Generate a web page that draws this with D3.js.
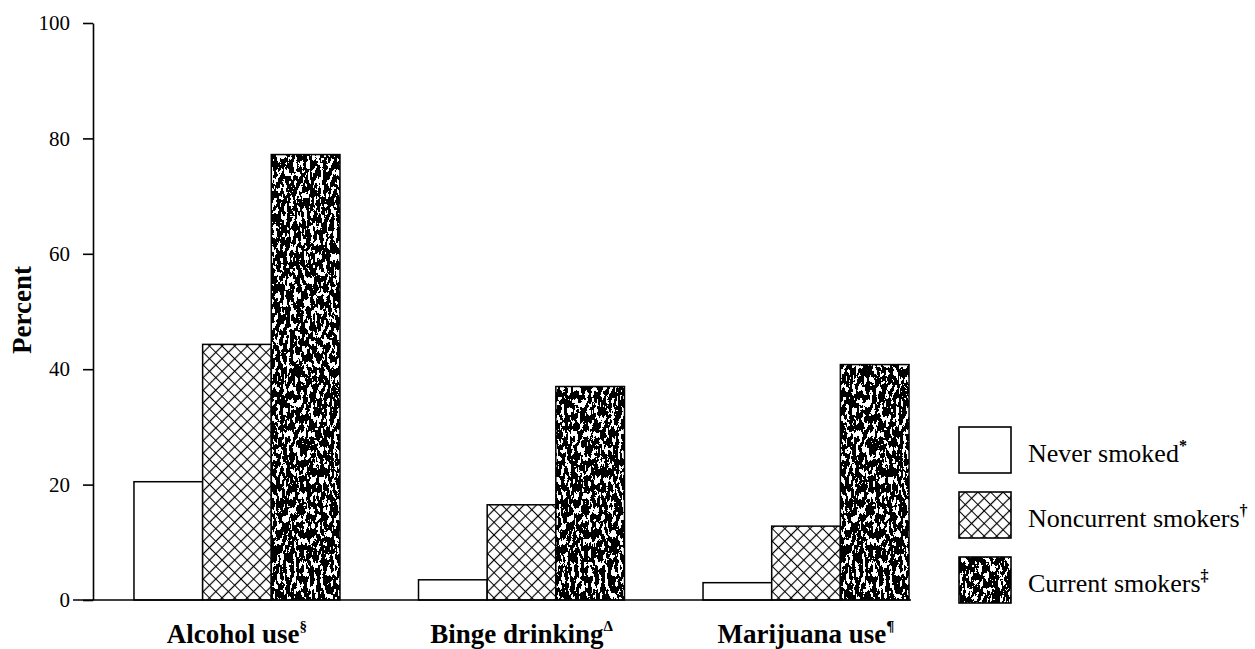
<!DOCTYPE html>
<html>
<head>
<meta charset="utf-8">
<script src="https://cdn.jsdelivr.net/npm/d3@7"></script>
<style>
  body { margin: 0; background: #fff; }
  svg { display: block; }
</style>
</head>
<body>
<script>
(function(){

//chart data
var categories = ["Alcohol use", "Binge drinking", "Marijuana use"];
var categoryMarks = ["\u00a7", "\u0394", "\u00b6"];
var seriesNames = ["Never smoked", "Noncurrent smokers", "Current smokers"];
var seriesMarks = ["*", "\u2020", "\u2021"];
var neverSmoked = [20.5, 3.5, 3.0];
var noncurrentSmokers = [44.3, 16.5, 12.8];
var currentSmokers = [77.2, 37.0, 40.8];
var yTicks = [0, 20, 40, 60, 80, 100];

var seriesValues = [neverSmoked, noncurrentSmokers, currentSmokers];

var width = 1255,
    height = 649;

var svg = d3.select("body")
    .append("svg")
    .attr("width", width)
    .attr("height", height);

var defs = svg.append("defs");

//crosshatch for noncurrent smokers
var cross = defs.append("pattern")
    .attr("id", "cross")
    .attr("patternUnits", "userSpaceOnUse")
    .attr("width", 8.9)
    .attr("height", 8.9)
    .attr("patternTransform", "rotate(45)");
cross.append("rect").attr("width", 8.9).attr("height", 8.9).attr("fill", "#fff");
cross.append("path")
    .attr("d", "M0,4.45H8.9M4.45,0V8.9")
    .attr("stroke", "#000")
    .attr("stroke-width", 1.2);

//speckled texture for current smokers
var speckle = defs.append("filter")
    .attr("id", "speckle")
    .attr("x", 0).attr("y", 0).attr("width", 1).attr("height", 1)
    .attr("color-interpolation-filters", "sRGB");
speckle.append("feTurbulence")
    .attr("type", "fractalNoise")
    .attr("baseFrequency", "0.3 0.13")
    .attr("numOctaves", 5)
    .attr("seed", 11)
    .attr("result", "noise");
speckle.append("feColorMatrix")
    .attr("in", "noise")
    .attr("type", "matrix")
    .attr("values", "0 0 0 0 0  0 0 0 0 0  0 0 0 0 0  1 0 0 0 0")
    .attr("result", "red");
speckle.append("feComponentTransfer")
    .attr("in", "red")
    .attr("result", "mask")
    .append("feFuncA")
    .attr("type", "discrete")
    .attr("tableValues", "0 0 0 0 0 0 0 0 0 1 1 1 1 1 1 1 1 1 1 1");
speckle.append("feComposite")
    .attr("in", "SourceGraphic")
    .attr("in2", "mask")
    .attr("operator", "in");

//scales
var x0 = d3.scaleBand()
    .domain(categories)
    .range([93, 950])
    .paddingInner(0.276)
    .paddingOuter(0.144);

var x1 = d3.scaleBand()
    .domain(seriesNames)
    .range([0, x0.bandwidth()]);

var y = d3.scaleLinear()
    .domain([0, 100])
    .range([600, 23]);

//y axis
var yAxis = d3.axisLeft(y)
    .tickValues(yTicks)
    .tickSize(10)
    .tickSizeOuter(0)
    .tickPadding(13);

var axis = svg.append("g")
    .attr("class", "axis")
    .attr("transform", "translate(93,0)")
    .call(yAxis);
axis.select(".domain").attr("stroke-width", 1.6);
axis.selectAll(".tick line").attr("stroke-width", 1.6);
axis.selectAll(".tick text")
    .attr("font-family", "Liberation Serif")
    .attr("font-size", 21)
    .attr("fill", "#000");

//axis title
svg.append("text")
    .attr("transform", "translate(31,310) rotate(-90)")
    .attr("text-anchor", "middle")
    .attr("font-family", "Liberation Serif")
    .attr("font-weight", "bold")
    .attr("font-size", 27)
    .text("Percent");

//bars
var groups = svg.selectAll(".group")
    .data(categories)
    .enter()
    .append("g")
    .attr("class", "group")
    .attr("transform", function(d){ return "translate(" + x0(d) + ",0)"; });

var bars = groups.selectAll(".bar")
    .data(function(d, i){
        return seriesNames.map(function(s, j){
            return { series: s, index: j, value: seriesValues[j][i] };
        });
    })
    .enter()
    .append("g")
    .attr("class", "bar");

bars.append("rect")
    .attr("x", function(d){ return x1(d.series); })
    .attr("width", x1.bandwidth())
    .attr("y", function(d){ return y(d.value); })
    .attr("height", function(d){ return y(0) - y(d.value); })
    .attr("fill", function(d){ return d.index == 1 ? "url(#cross)" : "#fff"; });

bars.filter(function(d){ return d.index == 2; })
    .append("rect")
    .attr("x", function(d){ return x1(d.series); })
    .attr("width", x1.bandwidth())
    .attr("y", function(d){ return y(d.value); })
    .attr("height", function(d){ return y(0) - y(d.value); })
    .attr("fill", "#000")
    .attr("filter", "url(#speckle)");

bars.append("rect")
    .attr("x", function(d){ return x1(d.series); })
    .attr("width", x1.bandwidth())
    .attr("y", function(d){ return y(d.value); })
    .attr("height", function(d){ return y(0) - y(d.value); })
    .attr("fill", "none")
    .attr("stroke", "#000")
    .attr("stroke-width", 1.5);

//baseline
svg.append("line")
    .attr("x1", 73)
    .attr("x2", x0(categories[2]) + x0.bandwidth() + 2)
    .attr("y1", y(0))
    .attr("y2", y(0))
    .attr("stroke", "#000")
    .attr("stroke-width", 1.6);

//category labels
var catLabels = svg.selectAll(".catLabel")
    .data(categories)
    .enter()
    .append("text")
    .attr("class", "catLabel")
    .attr("x", function(d){ return x0(d) + x0.bandwidth() / 2; })
    .attr("y", 643)
    .attr("text-anchor", "middle")
    .attr("font-family", "Liberation Serif")
    .attr("font-weight", "bold")
    .attr("font-size", 27);
catLabels.append("tspan").text(function(d){ return d; });
catLabels.append("tspan")
    .attr("dy", -12)
    .attr("font-size", 15)
    .text(function(d, i){ return categoryMarks[i]; });

//legend
var legend = svg.selectAll(".legend")
    .data(seriesNames)
    .enter()
    .append("g")
    .attr("class", "legend")
    .attr("transform", function(d, i){ return "translate(959," + (427 + i * 65) + ")"; });

legend.append("rect")
    .attr("width", 52)
    .attr("height", 46)
    .attr("fill", function(d, i){ return i == 1 ? "url(#cross)" : "#fff"; });
legend.filter(function(d, i){ return i == 2; })
    .append("rect")
    .attr("width", 52)
    .attr("height", 46)
    .attr("fill", "#000")
    .attr("filter", "url(#speckle)");
legend.append("rect")
    .attr("width", 52)
    .attr("height", 46)
    .attr("fill", "none")
    .attr("stroke", "#000")
    .attr("stroke-width", 1.6);

var legendText = legend.append("text")
    .attr("x", 69)
    .attr("y", 35)
    .attr("font-family", "Liberation Serif")
    .attr("font-size", 26);
legendText.append("tspan").text(function(d){ return d; });
legendText.append("tspan")
    .attr("dy", -11)
    .attr("font-size", 16)
    .attr("font-weight", "bold")
    .text(function(d, i){ return seriesMarks[i]; });

})();
</script>
</body>
</html>
